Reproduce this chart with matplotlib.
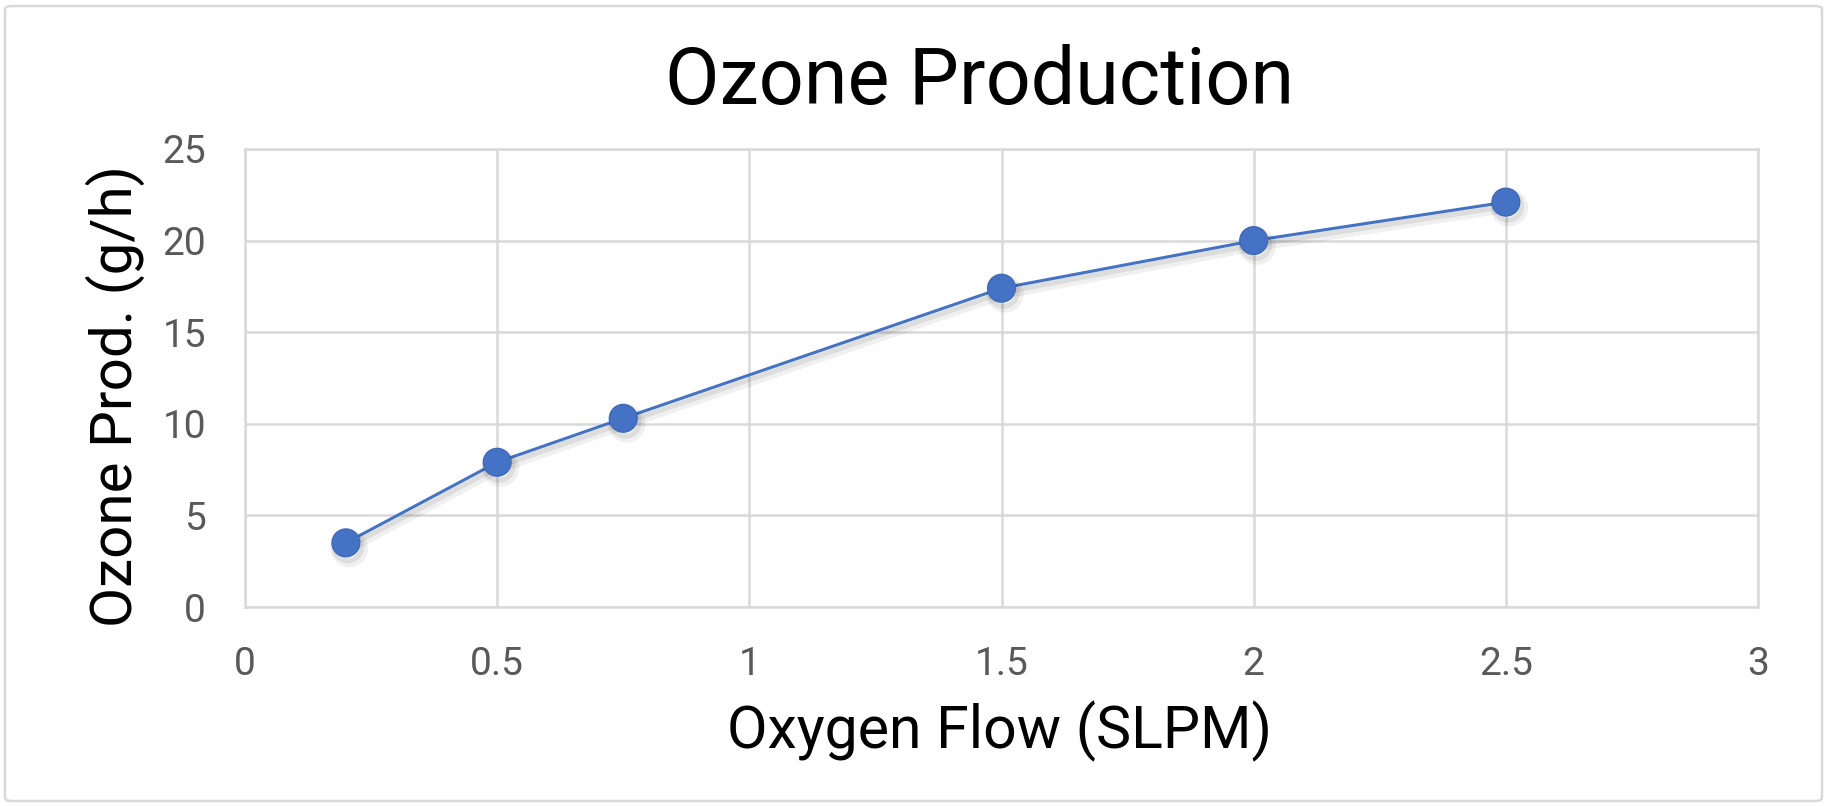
import matplotlib
matplotlib.use("Agg")
import matplotlib.pyplot as plt
import matplotlib.patheffects as pe
from matplotlib.patches import FancyBboxPatch

# Data
oxygen_flow = [0.2, 0.5, 0.75, 1.5, 2.0, 2.5]
ozone_prod = [3.5, 7.9, 10.3, 17.4, 20.0, 22.1]
x_ticks = [0, 0.5, 1, 1.5, 2, 2.5, 3]
x_tick_labels = ["0", "0.5", "1", "1.5", "2", "2.5", "3"]
y_ticks = [0, 5, 10, 15, 20, 25]
y_tick_labels = ["0", "5", "10", "15", "20", "25"]
title = "Ozone Production"
x_label = "Oxygen Flow (SLPM)"
y_label = "Ozone Prod. (g/h)"

plt.rcParams['font.family'] = ['Roboto', 'DejaVu Sans']

W, H, DPI = 1828, 806, 100
fig = plt.figure(figsize=(W / DPI, H / DPI), dpi=DPI)
fig.patch.set_facecolor('white')

# chart border
border = FancyBboxPatch((5 / W, 5 / H), (W - 11) / W, (H - 11) / H,
                        boxstyle="round,pad=0,rounding_size=0.004",
                        transform=fig.transFigure, facecolor='none',
                        edgecolor='#d9d9d9', linewidth=1.8)
fig.patches.append(border)

ax = fig.add_axes([245 / W, 1 - 607 / H, (1758 - 245) / W, (607 - 149) / H])

grid_c = '#d9d9d9'
ax.set_xlim(0, 3)
ax.set_ylim(0, 25)
ax.set_xticks(x_ticks)
ax.set_xticklabels(x_tick_labels)
ax.set_yticks(y_ticks)
ax.set_yticklabels(y_tick_labels)
ax.grid(True, color=grid_c, linewidth=1.8)
ax.set_axisbelow(True)
for s in ax.spines.values():
    s.set_color(grid_c)
    s.set_linewidth(1.8)
ax.tick_params(axis='both', length=0, labelsize=28, labelcolor='#595959')
ax.tick_params(axis='x', pad=28)
ax.tick_params(axis='y', pad=28)

ax.plot(oxygen_flow, ozone_prod, color='#4472C4', linewidth=2.2,
        marker='o', markersize=20, markerfacecolor='#4472C4',
        markeredgecolor='#3f6ab8', markeredgewidth=1,
        path_effects=[pe.SimpleLineShadow(offset=(2.5, -4), shadow_color='#000000', alpha=0.06, linewidth=7),
                      pe.SimpleLineShadow(offset=(1.5, -3), shadow_color='#000000', alpha=0.08, linewidth=3.5),
                      pe.Normal()], clip_on=False, zorder=3)

fig.text(980 / W, 1 - 82 / H, title, ha='center', va='center', fontsize=57, color='black')
fig.text(1000 / W, 1 - 731 / H, x_label, ha='center', va='center', fontsize=42.5, color='black')
fig.text(115 / W, 1 - 396 / H, y_label, ha='center', va='center', fontsize=42,
         color='black', rotation=90)

fig.savefig('out.png', dpi=DPI, facecolor='white')
